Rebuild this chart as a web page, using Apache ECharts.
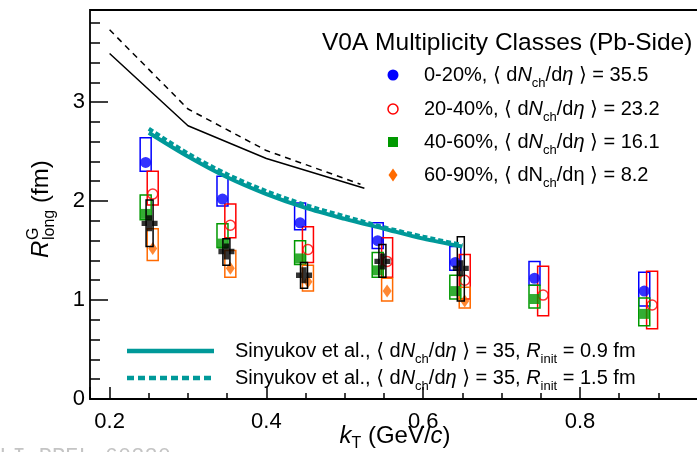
<!DOCTYPE html>
<html><head><meta charset="utf-8">
<script src="https://cdn.jsdelivr.net/npm/echarts@6/dist/echarts.min.js"></script>
<style>html,body{margin:0;padding:0;background:#fff}#c{width:697px;height:452px}</style>
</head><body><div id="c"></div>
<script>
// ---- tick labels ----
const xTickLabels = ['0.2', '0.4', '0.6', '0.8'];
const yTickLabels = ['0', '1', '2', '3'];

// ---- 0-20% ----
const kT_0_20 = [0.246, 0.344, 0.443, 0.542, 0.641, 0.742, 0.882];
const R_0_20 = [2.39, 2.02, 1.78, 1.60, 1.38, 1.22, 1.09];
const lo_0_20 = [2.30, 1.95, 1.71, 1.52, 1.30, 1.15, 0.94];
const hi_0_20 = [2.64, 2.25, 1.98, 1.78, 1.54, 1.39, 1.28];
// ---- 20-40% ----
const kT_20_40 = [0.255, 0.354, 0.453, 0.554, 0.653, 0.753, 0.892];
const R_20_40 = [2.07, 1.755, 1.51, 1.39, 1.20, 1.05, 0.95];
const lo_20_40 = [1.96, 1.63, 1.38, 1.23, 1.01, 0.84, 0.71];
const hi_20_40 = [2.30, 1.97, 1.74, 1.63, 1.46, 1.34, 1.29];
// ---- 40-60% ----
const kT_40_60 = [0.246, 0.344, 0.443, 0.542, 0.641, 0.742, 0.882];
const R_40_60 = [1.87, 1.57, 1.42, 1.30, 1.09, 1.01, 0.86];
const lo_40_60 = [1.81, 1.53, 1.36, 1.23, 1.01, 0.92, 0.74];
const hi_40_60 = [2.06, 1.77, 1.60, 1.48, 1.25, 1.15, 1.02];
// ---- 60-90% ----
const kT_60_90 = [0.255, 0.354, 0.453, 0.554, 0.653];
const R_60_90 = [1.52, 1.32, 1.185, 1.09, 0.99];
const lo_60_90 = [1.40, 1.23, 1.09, 0.99, 0.92];
const hi_60_90 = [1.72, 1.50, 1.35, 1.22, 1.13];
// ---- black crosses ----
const kT_blk = [0.251, 0.349, 0.448, 0.548, 0.648];
const R_blk = [1.775, 1.49, 1.25, 1.39, 1.32];
const lo_blk = [1.54, 1.35, 1.12, 1.23, 0.99];
const hi_blk = [2.01, 1.62, 1.38, 1.56, 1.64];
// ---- black model curves ----
const kT_blkSolid = [0.2, 0.3, 0.4, 0.525];
const R_blkSolid = [3.49, 2.76, 2.43, 2.13];
const kT_blkDash = [0.2, 0.3, 0.4, 0.52];
const R_blkDash = [3.73, 2.93, 2.51, 2.17];
// ---- Sinyukov curves ----
const kT_sin = [0.25, 0.30, 0.35, 0.40, 0.45, 0.50, 0.55, 0.60, 0.65];
const R_sin09 = [2.69, 2.45, 2.24, 2.07, 1.93, 1.82, 1.72, 1.62, 1.54];
const R_sin15 = [2.73, 2.48, 2.27, 2.10, 1.96, 1.845, 1.735, 1.64, 1.555];

const F = 'Liberation Sans, Arial, Helvetica, DejaVu Sans, sans-serif';
const BLUE = '#0000ff', RED = '#ff0000', GREEN = '#009900', ORANGE = '#ff6a00', TEAL = '#009999';

function zip(a, b) { return a.map((v, i) => [v, b[i]]); }
function boxSeries(xs, lo, hi, color, w, z) {
  return {
    type: 'custom', silent: true, z: z, clip: true,
    renderItem: function (params, api) {
      const x = api.value(0), l = api.value(1), h = api.value(2);
      const p1 = api.coord([x, h]), p2 = api.coord([x, l]);
      return { type: 'rect', shape: { x: p1[0] - w / 2, y: p1[1], width: w, height: p2[1] - p1[1] },
        style: { fill: 'none', stroke: color, lineWidth: 1.5 } };
    },
    encode: { x: 0, y: [1, 2] },
    data: xs.map((x, i) => [x, lo[i], hi[i]])
  };
}
function scat(xs, ys, symbol, size, itemStyle, z) {
  return { type: 'scatter', silent: true, z: z, symbol: symbol, symbolSize: size,
    itemStyle: itemStyle, data: zip(xs, ys) };
}
function line(xs, ys, color, width, type, smooth, z) {
  return { type: 'line', silent: true, z: z, showSymbol: false, symbol: 'none', smooth: smooth,
    lineStyle: { color: color, width: width, type: type }, data: zip(xs, ys) };
}
const CROSS = 'path://M1,0H2V1H3V2H2V3H1V2H0V1H1Z';

const rich = {
  t: { fontSize: 20, fontFamily: F, color: '#000', lineHeight: 30 },
  i: { fontSize: 20, fontFamily: F, fontStyle: 'italic', color: '#000', lineHeight: 30 },
  s: { fontSize: 13, fontFamily: F, color: '#000', lineHeight: 13, verticalAlign: 'bottom' }
};
const richBig = {
  t: { fontSize: 24, fontFamily: F, color: '#000', lineHeight: 32 },
  i: { fontSize: 24, fontFamily: F, fontStyle: 'italic', color: '#000', lineHeight: 32 },
  s: { fontSize: 16, fontFamily: F, color: '#000', lineHeight: 16, verticalAlign: 'bottom' }
};
function rtext(x, y, text, r) {
  return { type: 'text', x: x, y: y, silent: true, z: 100,
    style: { text: text, rich: r || rich, verticalAlign: 'middle', align: 'left', fill: '#000' } };
}

const legendRows = [75, 109, 142, 175];
const graphic = [
  { type: 'text', x: 322, y: 43, silent: true, z: 100,
    style: { text: 'V0A Multiplicity Classes (Pb-Side)', font: '24.5px ' + F, fill: '#000', verticalAlign: 'middle' } },
  { type: 'circle', shape: { cx: 393, cy: legendRows[0], r: 5.5 }, style: { fill: BLUE }, z: 100, silent: true },
  { type: 'circle', shape: { cx: 393, cy: legendRows[1], r: 5 }, style: { fill: 'none', stroke: RED, lineWidth: 1.5 }, z: 100, silent: true },
  { type: 'rect', shape: { x: 388, y: legendRows[2] - 5, width: 10, height: 10 }, style: { fill: GREEN }, z: 100, silent: true },
  { type: 'polygon', shape: { points: [[393, legendRows[3] - 6.5], [397.5, legendRows[3]], [393, legendRows[3] + 6.5], [388.5, legendRows[3]]] }, style: { fill: ORANGE }, z: 100, silent: true },
  rtext(424, legendRows[0], '{t|0-20%, ⟨ d}{i|N}{s|ch}{t|/d}{i|η}{t| ⟩ = 35.5}'),
  rtext(424, legendRows[1], '{t|20-40%, ⟨ d}{i|N}{s|ch}{t|/d}{i|η}{t| ⟩ = 23.2}'),
  rtext(424, legendRows[2], '{t|40-60%, ⟨ d}{i|N}{s|ch}{t|/d}{i|η}{t| ⟩ = 16.1}'),
  rtext(424, legendRows[3], '{t|60-90%, ⟨ dN}{s|ch}{t|/dη ⟩ = 8.2}'),
  { type: 'line', shape: { x1: 127, y1: 351, x2: 214, y2: 351 }, style: { stroke: TEAL, lineWidth: 4.5 }, z: 100, silent: true },
  { type: 'line', shape: { x1: 127, y1: 378, x2: 214, y2: 378 }, style: { stroke: TEAL, lineWidth: 4.5, lineDash: [7, 4] }, z: 100, silent: true },
  rtext(235, 351, '{t|Sinyukov et al., ⟨ d}{i|N}{s|ch}{t|/d}{i|η}{t| ⟩ = 35, }{i|R}{s|init}{t| = 0.9 fm}'),
  rtext(235, 378, '{t|Sinyukov et al., ⟨ d}{i|N}{s|ch}{t|/d}{i|η}{t| ⟩ = 35, }{i|R}{s|init}{t| = 1.5 fm}'),
  // x-axis title
  { type: 'text', x: 395, y: 436, silent: true, z: 100,
    style: { text: '{i|k}{s|T}{t| (GeV/}{i|c}{t|)}', rich: richBig, align: 'center', verticalAlign: 'middle' } },
  // y-axis title (baseline at screen x = 50)
  { type: 'group', x: 50, y: 258, rotation: Math.PI / 2, silent: true, z: 100, children: [
    { type: 'text', x: 0, y: -8.5, style: { text: 'R', font: 'italic 24px ' + F, fill: '#000', verticalAlign: 'middle' } },
    { type: 'text', x: 18, y: -16.5, style: { text: 'G', font: '16px ' + F, fill: '#000', verticalAlign: 'middle' } },
    { type: 'text', x: 18, y: -0.5, style: { text: 'long', font: '16px ' + F, fill: '#000', verticalAlign: 'middle' } },
    { type: 'text', x: 55, y: -8.5, style: { text: '(fm)', font: '24px ' + F, fill: '#000', verticalAlign: 'middle' } }
  ] },
  // watermark
  { type: 'text', x: -14, y: 446, silent: true, z: 100,
    style: { text: 'ALI-PREL-60330', font: '22px Liberation Mono, Courier New, monospace', fill: '#c4c4c4', verticalAlign: 'top' } }
];

function fmt(list) {
  return function (v) { const s = String(Math.round(v * 1000) / 1000); return list.indexOf(s) >= 0 ? s : ''; };
}
const tickLine = { color: '#000', width: 1.5 };

const option = {
  animation: false,
  backgroundColor: '#fff',
  grid: { left: 90, width: 615.4, top: 10, height: 389, outerBoundsMode: 'none', containLabel: false,
    show: true, borderColor: '#000', borderWidth: 1.8, backgroundColor: 'transparent' },
  xAxis: [
    { type: 'value', position: 'bottom', min: 0.175, max: 0.96, splitNumber: 4, minInterval: 0.2, maxInterval: 0.2,
      axisLine: { show: false }, splitLine: { show: false },
      axisTick: { show: true, inside: true, length: 12, lineStyle: tickLine },
      axisLabel: { show: true, margin: 12, formatter: fmt(xTickLabels), fontSize: 22, fontFamily: F, color: '#000' } },
    { type: 'value', position: 'bottom', min: 0.175, max: 0.96, splitNumber: 16, minInterval: 0.05, maxInterval: 0.05,
      axisLine: { show: false }, splitLine: { show: false },
      axisTick: { show: true, inside: true, length: 6, lineStyle: tickLine },
      axisLabel: { show: false } }
  ],
  yAxis: [
    { type: 'value', position: 'left', min: 0, max: 3.93, interval: 1,
      axisLine: { show: false }, splitLine: { show: false },
      axisTick: { show: true, inside: true, length: 18, lineStyle: tickLine },
      axisLabel: { show: true, margin: 5, formatter: fmt(yTickLabels), fontSize: 22, fontFamily: F, color: '#000' } },
    { type: 'value', position: 'left', min: 0, max: 3.93, interval: 0.2,
      axisLine: { show: false }, splitLine: { show: false },
      axisTick: { show: true, inside: true, length: 10, lineStyle: tickLine },
      axisLabel: { show: false } }
  ],
  graphic: graphic,
  series: [
    line(kT_blkDash, R_blkDash, '#000', 1.5, [6, 5], false, 2),
    line(kT_blkSolid, R_blkSolid, '#000', 1.5, 'solid', false, 2),
    boxSeries(kT_0_20, lo_0_20, hi_0_20, BLUE, 11, 3),
    scat(kT_0_20, R_0_20, 'circle', 11, { color: BLUE }, 4),
    boxSeries(kT_20_40, lo_20_40, hi_20_40, RED, 11, 3),
    scat(kT_20_40, R_20_40, 'circle', 10, { color: 'rgba(0,0,0,0)', borderColor: RED, borderWidth: 1.5 }, 4),
    boxSeries(kT_40_60, lo_40_60, hi_40_60, GREEN, 11, 3),
    scat(kT_40_60, R_40_60, 'rect', 10, { color: GREEN }, 4),
    boxSeries(kT_60_90, lo_60_90, hi_60_90, ORANGE, 11, 3),
    scat(kT_60_90, R_60_90, 'diamond', [9, 13], { color: ORANGE }, 4),
    boxSeries(kT_blk, lo_blk, hi_blk, '#000', 7, 5),
    scat(kT_blk, R_blk, CROSS, 16, { color: '#000' }, 6),
    line(kT_sin, R_sin09, TEAL, 4, 'solid', 0.3, 7),
    line(kT_sin, R_sin15, TEAL, 4, [5, 3], 0.3, 7)
  ]
};
const chart = echarts.init(document.getElementById('c'), null, { renderer: 'canvas' });
chart.setOption(option);
</script>
</body></html>
